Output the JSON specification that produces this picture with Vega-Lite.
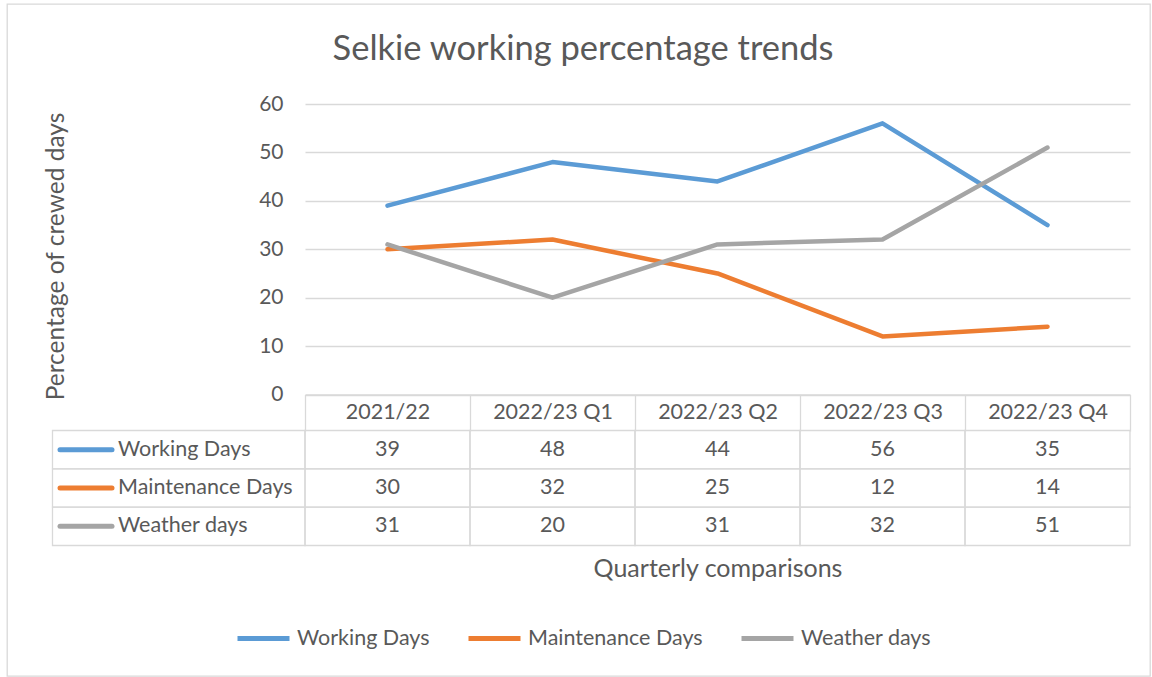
{
  "$schema": "https://vega.github.io/schema/vega-lite/v6.json",
  "autosize": {"type": "none"},
  "padding": {"left": 7, "top": 4, "right": 2, "bottom": 1},
  "width": 1143,
  "height": 672,
  "background": "white",
  "title": {"text": "Selkie working percentage trends", "anchor": "middle", "frame": "group", "offset": -90, "baseline": "alphabetic", "dx": 4.5, "fontSize": 34.5, "font": "Lato", "fontWeight": "normal", "color": "#595959"},
  "datasets": {
    "vals": [
      {"series": "Working Days", "cat": "2021/22", "value": 39},
      {"series": "Working Days", "cat": "2022/23 Q1", "value": 48},
      {"series": "Working Days", "cat": "2022/23 Q2", "value": 44},
      {"series": "Working Days", "cat": "2022/23 Q3", "value": 56},
      {"series": "Working Days", "cat": "2022/23 Q4", "value": 35},
      {"series": "Maintenance Days", "cat": "2021/22", "value": 30},
      {"series": "Maintenance Days", "cat": "2022/23 Q1", "value": 32},
      {"series": "Maintenance Days", "cat": "2022/23 Q2", "value": 25},
      {"series": "Maintenance Days", "cat": "2022/23 Q3", "value": 12},
      {"series": "Maintenance Days", "cat": "2022/23 Q4", "value": 14},
      {"series": "Weather days", "cat": "2021/22", "value": 31},
      {"series": "Weather days", "cat": "2022/23 Q1", "value": 20},
      {"series": "Weather days", "cat": "2022/23 Q2", "value": 31},
      {"series": "Weather days", "cat": "2022/23 Q3", "value": 32},
      {"series": "Weather days", "cat": "2022/23 Q4", "value": 51}
    ],
    "keys": [
      {"series": "Working Days"},
      {"series": "Maintenance Days"},
      {"series": "Weather days"}
    ]
  },
  "config": {
    "view": {"stroke": "#d9d9d9", "strokeWidth": 1.3},
    "font": "Lato"
  },
  "layer": [
    {
      "layer": [
        {
          "data": {"name": "vals"},
          "mark": {"type": "line", "strokeWidth": 4.5, "strokeCap": "round", "strokeJoin": "round"},
          "encoding": {
            "x": {"field": "cat", "type": "ordinal", "bandPosition": 0.5,
              "scale": {"type": "band", "domain": ["2021/22", "2022/23 Q1", "2022/23 Q2", "2022/23 Q3", "2022/23 Q4"], "range": [298, 1123], "paddingInner": 0, "paddingOuter": 0},
              "axis": {"orient": "bottom", "offset": -281.5, "title": "Quarterly comparisons", "titleY": 181.5, "titleBaseline": "alphabetic", "titleFontSize": 25, "titleColor": "#595959", "titleFontWeight": "normal", "titleFont": "Lato",
                "labelAngle": 0, "labelFontSize": 21.5, "labelColor": "#595959", "labelBaseline": "middle", "labelPadding": -18.25, "labelFont": "Lato", "labelOverlap": false,
                "domain": true, "domainColor": "#d9d9d9", "domainWidth": 1.3,
                "ticks": true, "tickBand": "extent", "tickSize": 36.5, "tickColor": "#d9d9d9", "tickWidth": 1.3, "grid": false}},
            "y": {"field": "value", "type": "quantitative",
              "scale": {"domain": [0, 60], "range": [390.5, 100], "nice": false, "zero": true},
              "axis": {"orient": "left", "offset": -298, "values": [0, 10, 20, 30, 40, 50, 60], "title": "Percentage of crewed days", "titleX": -242, "titleY": 252, "titleAngle": -90, "titleAlign": "center", "titleBaseline": "alphabetic", "titleFontSize": 24.5, "titleColor": "#595959", "titleFontWeight": "normal", "titleFont": "Lato",
                "labelFontSize": 21, "labelColor": "#595959", "labelFont": "Lato", "labelPadding": 22, "labelBaseline": "middle",
                "ticks": false, "domain": false, "grid": true, "gridColor": "#d9d9d9", "gridWidth": 1.3}},
            "color": {"field": "series", "type": "nominal",
              "scale": {"domain": ["Working Days", "Maintenance Days", "Weather days"], "range": ["#5B9BD5", "#ED7D31", "#A5A5A5"]},
              "legend": {"orient": "none", "legendX": 228, "legendY": 606, "direction": "horizontal", "title": null, "symbolType": "stroke", "symbolSize": 2704, "symbolStrokeWidth": 5, "labelFontSize": 21.5, "labelColor": "#595959", "labelFont": "Lato", "labelOffset": 5, "labelLimit": 400, "columnPadding": 28, "padding": 0, "symbolOpacity": 1}}
          }
        },
        {
          "data": {"name": "vals"},
          "layer": [
            {
              "mark": {"type": "rect", "filled": false, "stroke": "#d9d9d9", "strokeWidth": 1.3},
              "encoding": {
                "x": {"field": "cat", "type": "ordinal",
                  "scale": {"type": "band", "domain": ["2021/22", "2022/23 Q1", "2022/23 Q2", "2022/23 Q3", "2022/23 Q4"], "range": [298, 1123], "paddingInner": 0, "paddingOuter": 0},
                  "axis": {"orient": "bottom", "offset": -281.5, "title": "Quarterly comparisons", "titleY": 181.5, "titleBaseline": "alphabetic", "titleFontSize": 25, "titleColor": "#595959", "titleFontWeight": "normal", "titleFont": "Lato",
                    "labelAngle": 0, "labelFontSize": 21.5, "labelColor": "#595959", "labelBaseline": "middle", "labelPadding": -18.25, "labelFont": "Lato", "labelOverlap": false,
                    "domain": true, "domainColor": "#d9d9d9", "domainWidth": 1.3,
                    "ticks": true, "tickBand": "extent", "tickSize": 36.5, "tickColor": "#d9d9d9", "tickWidth": 1.3, "grid": false}},
                "y": {"field": "series", "type": "nominal",
                  "scale": {"type": "band", "domain": ["Working Days", "Maintenance Days", "Weather days"], "range": [426.5, 541.5], "paddingInner": 0, "paddingOuter": 0},
                  "axis": null}
              }
            },
            {
              "mark": {"type": "text", "fontSize": 21.5, "color": "#595959", "font": "Lato", "baseline": "middle", "align": "center"},
              "encoding": {
                "x": {"field": "cat", "type": "ordinal", "bandPosition": 0.5,
                  "scale": {"type": "band", "domain": ["2021/22", "2022/23 Q1", "2022/23 Q2", "2022/23 Q3", "2022/23 Q4"], "range": [298, 1123], "paddingInner": 0, "paddingOuter": 0},
                  "axis": {"orient": "bottom", "offset": -281.5, "title": "Quarterly comparisons", "titleY": 181.5, "titleBaseline": "alphabetic", "titleFontSize": 25, "titleColor": "#595959", "titleFontWeight": "normal", "titleFont": "Lato",
                    "labelAngle": 0, "labelFontSize": 21.5, "labelColor": "#595959", "labelBaseline": "middle", "labelPadding": -18.25, "labelFont": "Lato", "labelOverlap": false,
                    "domain": true, "domainColor": "#d9d9d9", "domainWidth": 1.3,
                    "ticks": true, "tickBand": "extent", "tickSize": 36.5, "tickColor": "#d9d9d9", "tickWidth": 1.3, "grid": false}},
                "y": {"field": "series", "type": "nominal", "bandPosition": 0.5,
                  "scale": {"type": "band", "domain": ["Working Days", "Maintenance Days", "Weather days"], "range": [426.5, 541.5], "paddingInner": 0, "paddingOuter": 0},
                  "axis": null},
                "text": {"field": "value", "type": "quantitative"}
              }
            }
          ]
        }
      ],
      "resolve": {"scale": {"y": "independent"}}
    },
    {
      "data": {"name": "keys"},
      "layer": [
        {
          "mark": {"type": "rect", "filled": false, "stroke": "#d9d9d9", "strokeWidth": 1.3},
          "encoding": {
            "x": {"datum": 0, "type": "quantitative", "scale": {"domain": [0, 1], "range": [45.5, 298], "nice": false, "zero": false}, "axis": null},
            "x2": {"datum": 1},
            "y": {"field": "series", "type": "nominal",
              "scale": {"type": "band", "domain": ["Working Days", "Maintenance Days", "Weather days"], "range": [426.5, 541.5], "paddingInner": 0, "paddingOuter": 0},
              "axis": null}
          }
        },
        {
          "mark": {"type": "point", "shape": "stroke", "filled": false, "size": 2704, "strokeWidth": 5, "strokeCap": "round", "xOffset": 33.5, "opacity": 1},
          "encoding": {
            "x": {"datum": 0, "type": "quantitative", "scale": {"domain": [0, 1], "range": [45.5, 298], "nice": false, "zero": false}, "axis": null},
            "y": {"field": "series", "type": "nominal", "bandPosition": 0.5,
              "scale": {"type": "band", "domain": ["Working Days", "Maintenance Days", "Weather days"], "range": [426.5, 541.5], "paddingInner": 0, "paddingOuter": 0},
              "axis": null},
            "color": {"field": "series", "type": "nominal",
              "scale": {"domain": ["Working Days", "Maintenance Days", "Weather days"], "range": ["#5B9BD5", "#ED7D31", "#A5A5A5"]},
              "legend": null}
          }
        },
        {
          "mark": {"type": "text", "align": "left", "baseline": "middle", "dx": 65.5, "fontSize": 21.5, "color": "#595959", "font": "Lato"},
          "encoding": {
            "x": {"datum": 0, "type": "quantitative", "scale": {"domain": [0, 1], "range": [45.5, 298], "nice": false, "zero": false}, "axis": null},
            "y": {"field": "series", "type": "nominal", "bandPosition": 0.5,
              "scale": {"type": "band", "domain": ["Working Days", "Maintenance Days", "Weather days"], "range": [426.5, 541.5], "paddingInner": 0, "paddingOuter": 0},
              "axis": null},
            "text": {"field": "series", "type": "nominal"}
          }
        }
      ]
    }
  ],
  "resolve": {"scale": {"x": "independent", "y": "independent"}}
}
